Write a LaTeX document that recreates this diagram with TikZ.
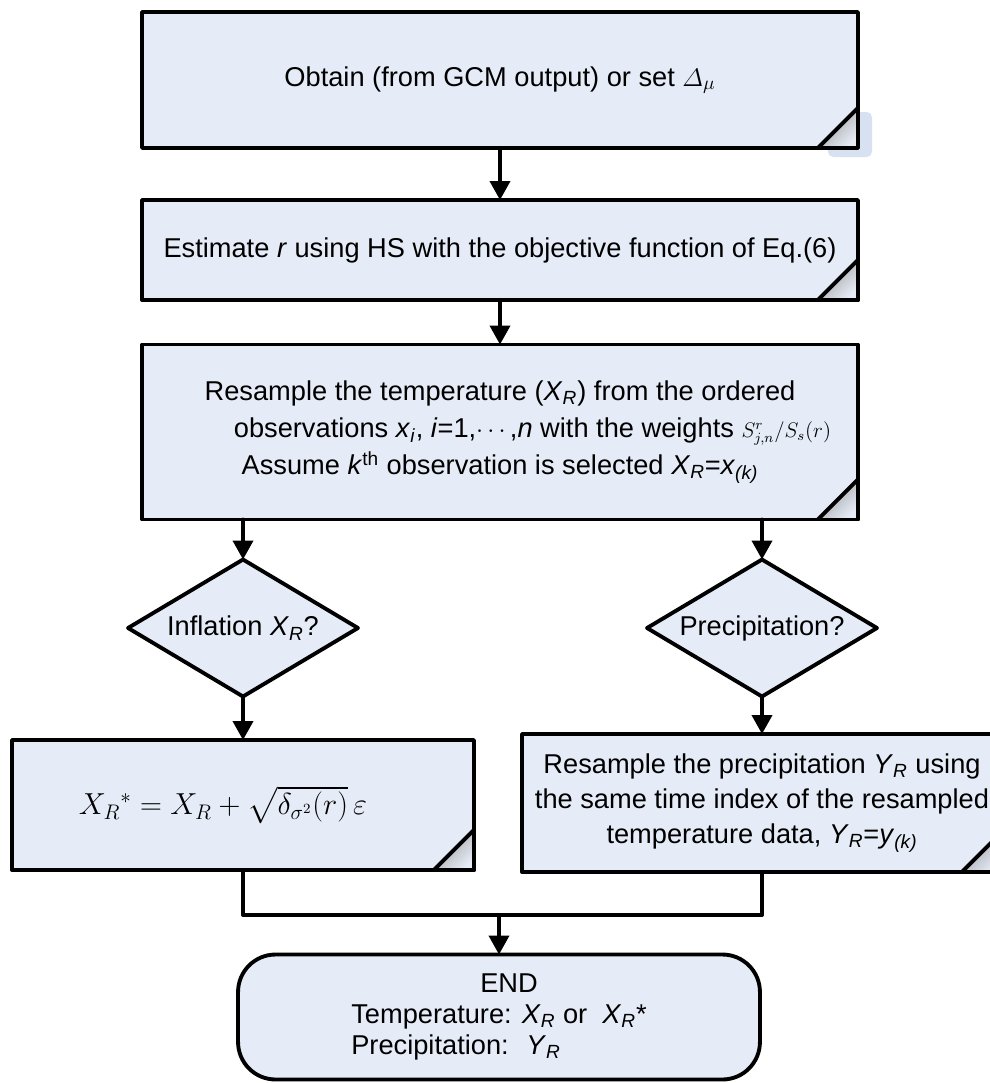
\documentclass[tikz,border=0pt]{standalone}
\usepackage{fontspec}
\setmainfont{Liberation Sans}
\usepackage{amsmath}
\usetikzlibrary{shapes.geometric,arrows.meta,calc}
\definecolor{BoxFill}{HTML}{E6ECF7}
\definecolor{ShadowBlue}{HTML}{D8E1F1}
\newcommand{\XR}{\textit{X}\textsubscript{\textit{R}}}
\newcommand{\YR}{\textit{Y}\textsubscript{\textit{R}}}
% folded lower right corner of a process box
\newcommand{\foldcorner}[1]{%
  \shade[top color=gray!80,bottom color=BoxFill,shading angle=45]
    ($(#1.south east)+(-40,0)$) -- (#1.south east) -- ($(#1.south east)+(0,-40)$) -- cycle;
  \draw[line width=2.2pt] ($(#1.south east)+(-45,0)$) -- (#1.south east) -- ($(#1.south east)+(0,-45)$);
  \draw[line width=2.2pt] ($(#1.south east)+(-40,0)$) -- ($(#1.south east)+(0,-40)$);
}

\begin{document}
\begin{tikzpicture}[x=0.02cm,y=-0.02cm,line cap=round,line join=round,
    font=\fontsize{15.5}{20}\selectfont,
    box/.style={draw,line width=2.2pt,fill=BoxFill,align=center,inner sep=0pt,outer sep=0pt},
    decision/.style={diamond,draw,line width=2.2pt,fill=BoxFill,inner sep=0pt,outer sep=0pt,
        minimum width=4.6cm,minimum height=2.74cm,shape aspect=1.68},
    terminal/.style={draw,line width=2.2pt,fill=BoxFill,rounded corners=0.75cm,align=left,
        outer sep=0pt,minimum width=10.44cm,minimum height=2.5cm,
        font=\fontsize{15.5}{17.5}\selectfont},
    link/.style={line width=2.2pt},
    arrow/.style={link,-{Triangle[length=0.38cm,width=0.4cm]}}]
    \useasboundingbox (0,0) rectangle (990,1083);

    \fill[ShadowBlue,rounded corners=3pt] (828,112) rectangle (872,157);
    \node[box,minimum width=14.32cm,minimum height=2.72cm] (obtain) at (500,80)
        {Obtain (from GCM output) or set $\varDelta_{\mu}$};
    \node[box,minimum width=14.32cm,minimum height=2cm] (estimate) at (500,250)
        {Estimate \textit{r} using HS with the objective function of Eq.(6)};
    \node[box,minimum width=14.32cm,minimum height=3.5cm] (resample) at (500,432)
        {Resample the temperature (\XR) from the ordered\\[1pt]
        \hspace*{1.3cm}observations \textit{x}\textsubscript{\textit{i}}, \textit{i}=1,$\cdots$,\textit{n} with the weights
        {\fontsize{11.5}{12}\selectfont$S^{r}_{j,n}/S_{s}(r)$}\\[1pt]
        Assume \textit{k}\textsuperscript{th} observation is selected \XR=\textit{x}\textsubscript{\textit{(k)}}};

    \node[decision] (inflate) at (243,628) {Inflation \XR?};
    \node[decision] (precip) at (762,628) {Precipitation?};

    \node[box,minimum width=9.24cm,minimum height=2.6cm] (inflated) at (243,805)
        {\fontsize{17}{20}\selectfont$X_{R}{}^{*}=X_{R}+\sqrt{\delta_{\sigma^{2}}(r)}\,\varepsilon$\hspace*{0.8cm}};
    \node[box,minimum width=9.6cm,minimum height=2.76cm] (precipres) at (762,803)
        {Resample the precipitation \YR{} using\\
        the same time index of the resampled\\
        temperature data, \YR=\textit{y}\textsubscript{\textit{(k)}}};

    \node[terminal] (finish) at (499,1017)
        {\hspace*{2.58cm}END\\Temperature: \XR{} or~ \XR*\\Precipitation:~ \YR};

    \foreach \n in {obtain,estimate,resample,inflated,precipres} {\foldcorner{\n}}

    \draw[arrow] (obtain) -- (estimate);
    \draw[arrow] (estimate) -- (resample);
    \draw[arrow] (resample.south -| inflate.north) -- (inflate);
    \draw[arrow] (resample.south -| precip.north) -- (precip);
    \draw[arrow] (inflate) -- (inflated);
    \draw[arrow] (precip) -- (precipres);
    \coordinate (merge) at (499,915);
    \draw[link] (inflated) |- (merge) -| (precipres);
    \draw[arrow] (merge) -- (finish);
\end{tikzpicture}
\end{document}
